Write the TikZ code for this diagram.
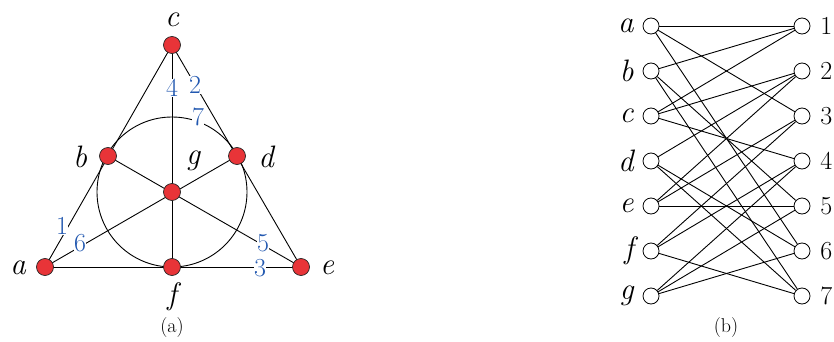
\documentclass[tikz,border=0pt]{standalone}
\usepackage{fontspec}
\setmainfont{Latin Modern Roman}
\usetikzlibrary{backgrounds}
\definecolor{ptred}{RGB}{232,52,56}
\definecolor{labblue}{RGB}{34,88,176}
\newcommand{\nmfont}{\fontsize{31pt}{35pt}\selectfont\itshape}
\newcommand{\numfont}{\fontsize{26pt}{30pt}\selectfont}
\newcommand{\capfont}{\fontsize{20pt}{24pt}\selectfont}
\begin{document}
\begin{tikzpicture}[x=1pt,y=-1pt,line width=0.9pt,
  pt/.style={circle,draw=black!85,line width=0.7pt,fill=ptred,minimum size=17pt,inner sep=0pt},
  vx/.style={circle,draw=black,line width=0.8pt,fill=white,minimum size=16pt,inner sep=0pt},
  edge/.style={draw=black,line width=0.9pt},
  nm/.style={inner sep=0pt},
  num/.style={inner sep=0pt},
  lab/.style={text=labblue,fill=white,inner sep=0.5pt},
  captxt/.style={inner sep=0pt}]
\useasboundingbox (0,0) rectangle (834,342);
% ---- (a) Fano plane ----
\node[pt] (a) at (45,267) {};
\node[pt] (b) at (108,156) {};
\node[pt] (c) at (172,45) {};
\node[pt] (d) at (237,156) {};
\node[pt] (e) at (301,267) {};
\node[pt] (f) at (172,267) {};
\node[pt] (g) at (172,192) {};
\begin{scope}[on background layer]
  \draw[edge] (g.center) circle[radius=75pt];
  \draw[edge] (a.center) -- (c.center);
  \draw[edge] (c.center) -- (e.center);
  \draw[edge] (a.center) -- (e.center);
  \draw[edge] (c.center) -- (f.center);
  \draw[edge] (b.center) -- (e.center);
  \draw[edge] (a.center) -- (d.center);
\end{scope}
\node[lab] (l4) at (172,88) {\numfont 4};
\node[lab] (l2) at (195,85) {\numfont 2};
\node[lab] (l7) at (198,117) {\numfont 7};
\node[lab] (l1) at (62,226) {\numfont 1};
\node[lab] (l6) at (80,243) {\numfont 6};
\node[lab] (l5) at (263,243) {\numfont 5};
\node[lab] (l3) at (260,268) {\numfont 3};
\node[nm] (ta) at (18,268) {\nmfont a};
\node[nm] (tb) at (80,157) {\nmfont b};
\node[nm] (tc) at (172,20) {\nmfont c};
\node[nm] (td) at (266,157) {\nmfont d};
\node[nm] (te) at (327,268) {\nmfont e};
\node[nm] (tf) at (172,297) {\nmfont f};
\node[nm] (tg) at (193,161) {\nmfont g};
\node[captxt] (capa) at (172,328) {\capfont (a)};
% ---- (b) incidence graph ----
\foreach \n [count=\i] in {a,b,c,d,e,f,g}{
  \node[vx] (L\n) at (651,{26+45*(\i-1)}) {};
  \node[nm,anchor=east] (tL\n) at (634,{26+45*(\i-1)}) {\nmfont \n};
}
\foreach \i in {1,...,7}{
  \node[vx] (R\i) at (802,{26+45*(\i-1)}) {};
  \node[num,anchor=west] (tR\i) at (820,{26+45*(\i-1)}) {\numfont \i};
}
\foreach \p/\q in {a/1,a/3,a/6,b/1,b/5,b/7,c/1,c/2,c/4,d/2,d/6,d/7,e/2,e/3,e/5,f/3,f/4,f/7,g/4,g/5,g/6}
  \draw[edge] (L\p) -- (R\q);
\node[captxt] (capb) at (726,328) {\capfont (b)};
\end{tikzpicture}
\end{document}
